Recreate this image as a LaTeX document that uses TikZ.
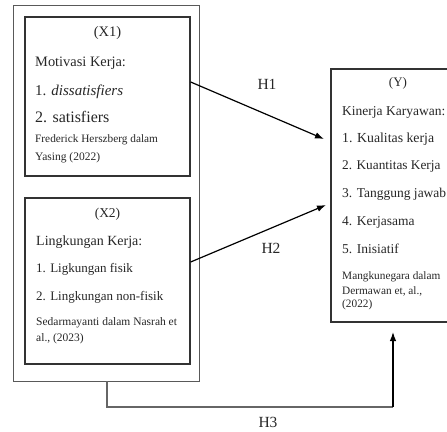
\documentclass[tikz,border=0pt]{standalone}
\usepackage{fontspec}
\setmainfont{Liberation Serif}
\usetikzlibrary{arrows.meta}
\newcommand{\fs}[1]{\fontsize{#1}{#1}\selectfont}
\begin{document}
\begin{tikzpicture}[x=1pt,y=-1pt,
  outerbox/.style={draw=black!65,line width=1pt,minimum width=186pt,minimum height=376pt,inner sep=0pt},
  varbox/.style={draw=black!80,line width=1.3pt,inner sep=0pt},
  txt/.style={anchor=west,inner sep=0pt,text=black!85},
  ctxt/.style={inner sep=0pt,text=black!85},
  arr/.style={line width=1.2pt,black,-{Latex[length=9pt,width=6.5pt]}},
  hlab/.style={inner sep=0pt,font=\fs{15.5},text=black!85}]
\useasboundingbox (0,0) rectangle (447,431);
\begin{scope}
\clip (0,0) rectangle (447,431);
% boxes
\node[outerbox] (outer) at (106,193) {};
\node[varbox,minimum width=165pt,minimum height=159pt] (x1) at (107.5,96.5) {};
\node[varbox,minimum width=165pt,minimum height=166pt] (x2) at (107.5,281) {};
\node[varbox,minimum width=134pt,minimum height=253pt] (y) at (398,195.5) {};
\end{scope}
% X1 text
\node[ctxt,font=\fs{14.5}] (x1t) at (107.5,33) {(X1)};
\node[txt,font=\fs{14.4}] (x1a) at (35,63) {Motivasi Kerja:};
\node[txt,font=\fs{15}] (x1b) at (35,92) {1. \textit{dissatisfiers}};
\node[txt,font=\fs{16}] (x1c) at (35,117) {2. satisfiers};
\node[txt,font=\fs{11.3}] (x1d) at (35,140) {Frederick Herszberg dalam};
\node[txt,font=\fs{11.5}] (x1e) at (35,158) {Yasing (2022)};
% X2 text
\node[ctxt,font=\fs{13.5}] (x2t) at (107.5,214) {(X2)};
\node[txt,font=\fs{14}] (x2a) at (36,242) {Lingkungan Kerja:};
\node[txt,font=\fs{13}] (x2b) at (36,269) {1. Ligkungan fisik};
\node[txt,font=\fs{13}] (x2c) at (36,297) {2. Lingkungan non-fisik};
\node[txt,font=\fs{11.5}] (x2d) at (36,323) {Sedarmayanti dalam Nasrah et};
\node[txt,font=\fs{11.5}] (x2e) at (36,338.5) {al., (2023)};
% Y text
\node[ctxt,font=\fs{13}] (yt) at (398,83) {(Y)};
\node[txt,font=\fs{13.5}] (ya) at (342,112) {Kinerja Karyawan:};
\node[txt,font=\fs{13.8}] (yb) at (342,139) {1. Kualitas kerja};
\node[txt,font=\fs{13.3}] (yc) at (342,167) {2. Kuantitas Kerja};
\node[txt,font=\fs{13.5}] (yd) at (342,194) {3. Tanggung jawab};
\node[txt,font=\fs{13.5}] (ye) at (342,222) {4. Kerjasama};
\node[txt,font=\fs{13.5}] (yf) at (342,249) {5. Inisiatif};
\node[txt,font=\fs{11.3}] (yg) at (342,277) {Mangkunegara dalam};
\node[txt,font=\fs{11.3}] (yh) at (342,291) {Dermawan et, al.,};
\node[txt,font=\fs{11.3}] (yi) at (342,305) {(2022)};
% connectors
\coordinate (h1s) at (x1.east |- 0,82);
\coordinate (h1e) at (324,139);
\coordinate (h2s) at (x2.east |- 0,262);
\coordinate (h2e) at (326,205);
\coordinate (h3s) at (107,381);
\coordinate (h3c1) at (107,407);
\coordinate (h3c2) at (393,407);
\coordinate (h3e) at (393,332);
\draw[arr] (h1s) -- (h1e);
\draw[arr] (h2s) -- (h2e);
\draw[line width=1.1pt,draw=black!60] (h3s) -- (h3c1) -- (h3c2);
\draw[arr] (h3c2) -- (h3e);
\node[hlab] (l1) at (267,84) {H1};
\node[hlab] (l2) at (271,248) {H2};
\node[hlab] (l3) at (268,422) {H3};
\end{tikzpicture}
\end{document}
